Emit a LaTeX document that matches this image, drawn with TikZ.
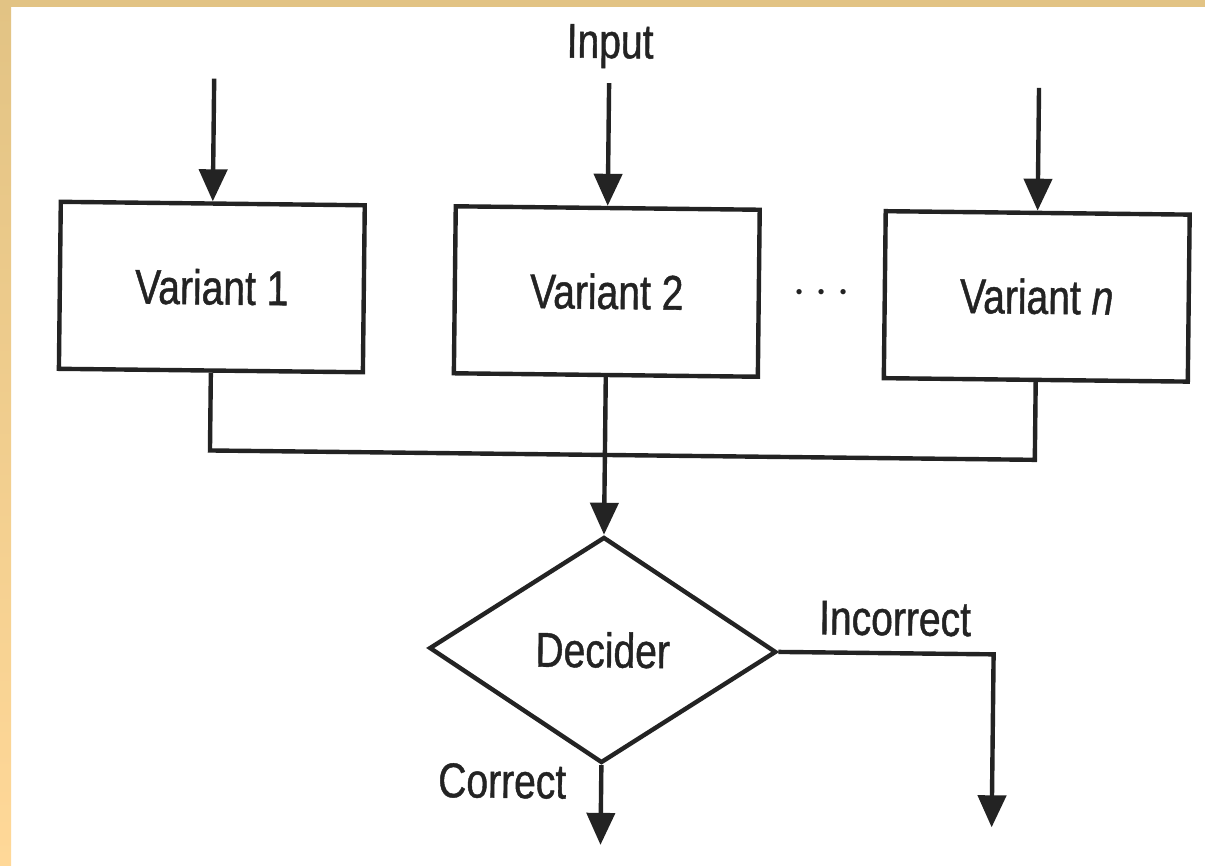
\documentclass[tikz,border=0pt]{standalone}
\usepackage{fontspec}
\setmainfont{Liberation Sans}[FakeStretch=0.80,FakeBold=0.9]
\usetikzlibrary{arrows.meta,shapes.geometric}
\definecolor{ink}{HTML}{232323}
\definecolor{tanA}{HTML}{E2C384}
\definecolor{tanB}{HTML}{FFD898}
\begin{document}
\begin{tikzpicture}[x=0.5pt,y=-0.5pt,
  txt/.style={font=\fontsize{24.4}{29}\selectfont, text=ink, inner sep=0pt},
  varbox/.style={txt, draw=ink, line width=2.2pt, minimum width=152pt, minimum height=83.5pt},
  decider/.style={txt, diamond, aspect=1.535, draw=ink, line width=2.2pt, minimum width=173.5pt, minimum height=113pt},
  wire/.style={draw=ink, line width=2.2pt},
  arr/.style={wire, -{Triangle[length=16pt,width=14pt]}}]
  % page and tan edge strips
  \fill[white] (0,0) rectangle (1205,866);
  \useasboundingbox (0,0) rectangle (1205,866);
  \shade[top color=tanA, bottom color=tanB] (0,0) rectangle (11,866);
  \fill[tanA] (0,0) rectangle (1205,7);

  \begin{scope}[rotate around={-0.65:(605,450)}, transform shape]
    % variants
    \node[varbox] (v1) at (210,291.5) {Variant 1};
    \node[varbox] (v2) at (605,291.5) {Variant 2};
    \node[varbox] (vn) at (1035,291.5) {Variant \textit{n}};
    \node[txt] (dots) at (820,291) {$\cdots$};

    % inputs
    \node[txt, anchor=base] (input) at (605.5,58) {Input};
    \coordinate (in1) at (210,83);
    \coordinate (in2) at (605,83);
    \coordinate (inn) at (1035,83);
    \draw[arr] (in1) -- (v1.north);
    \draw[arr] (in2) -- (v2.north);
    \draw[arr] (inn) -- (vn.north);

    % decider
    \node[decider] (dec) at (605,650) {Decider};
    \coordinate (join) at (605,455);
    \draw[wire] (v1.south) |- (join) -| (vn.south);
    \draw[arr] (v2.south) -- (dec.north);

    % outputs
    \coordinate (okout) at (605,845);
    \coordinate (badout) at (996,823);
    \draw[arr] (dec.south) -- (okout);
    \draw[arr] (dec.east) -| (badout);
    \node[txt, anchor=base] (correct) at (506,799) {Correct};
    \node[txt, anchor=base] (incorrect) at (897,632) {Incorrect};
  \end{scope}
\end{tikzpicture}
\end{document}
